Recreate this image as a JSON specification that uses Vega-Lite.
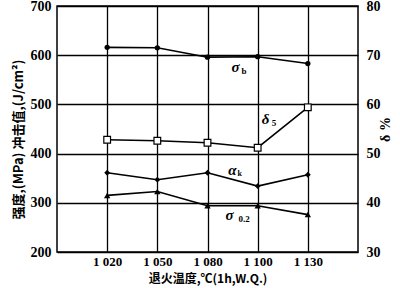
{
  "$schema": "https://vega.github.io/schema/vega-lite/v6.json",
  "width": 301,
  "height": 246,
  "autosize": "none",
  "padding": {"left": 57, "top": 6, "right": 42, "bottom": 36},
  "background": "white",
  "config": {
    "view": {"stroke": "black", "strokeWidth": 1.5},
    "axis": {
      "labelFont": "Liberation Serif",
      "labelFontWeight": "bold",
      "labelFontSize": 14,
      "labelColor": "black",
      "titleColor": "black",
      "ticks": false,
      "domain": false,
      "gridColor": "black",
      "gridWidth": 1.3,
      "gridOpacity": 1
    },
    "text": {"font": "Liberation Serif", "fontWeight": "bold", "color": "black", "baseline": "middle"}
  },
  "datasets": {
    "strength": [
      {"temp": 1020, "series": "σb", "v": 616},
      {"temp": 1050, "series": "σb", "v": 615},
      {"temp": 1080, "series": "σb", "v": 596},
      {"temp": 1100, "series": "σb", "v": 597},
      {"temp": 1130, "series": "σb", "v": 583},
      {"temp": 1020, "series": "αk", "v": 361},
      {"temp": 1050, "series": "αk", "v": 347},
      {"temp": 1080, "series": "αk", "v": 361},
      {"temp": 1100, "series": "αk", "v": 334},
      {"temp": 1130, "series": "αk", "v": 357},
      {"temp": 1020, "series": "σ0.2", "v": 315},
      {"temp": 1050, "series": "σ0.2", "v": 323},
      {"temp": 1080, "series": "σ0.2", "v": 294},
      {"temp": 1100, "series": "σ0.2", "v": 294},
      {"temp": 1130, "series": "σ0.2", "v": 276}
    ],
    "delta": [
      {"temp": 1020, "d": 52.8},
      {"temp": 1050, "d": 52.6},
      {"temp": 1080, "d": 52.2},
      {"temp": 1100, "d": 51.2},
      {"temp": 1130, "d": 59.4}
    ],
    "labels": [
      {"id": "sb", "temp": 1080, "v": 576, "main": "σ", "sub": "b"},
      {"id": "d5", "temp": 1100, "v": 470, "main": "δ", "sub": "5"},
      {"id": "ak", "temp": 1080, "v": 366, "main": "α", "sub": "k"},
      {"id": "s02", "temp": 1080, "v": 276, "main": "σ", "sub": "0.2"}
    ]
  },
  "encoding": {
    "x": {
      "field": "temp",
      "type": "ordinal",
      "sort": [1020, 1050, 1080, 1100, 1130],
      "scale": {"type": "point", "padding": 1},
      "axis": {
        "title": "退火温度,℃(1h,W.Q.)",
        "titleFont": "Noto Sans CJK SC",
        "titleFontWeight": "bold",
        "titleFontSize": 12,
        "titlePadding": 5,
        "labelAngle": 0,
        "labelFontSize": 13,
        "labelPadding": 3,
        "grid": true,
        "labelExpr": "'1 ' + substring(datum.label, 1)"
      }
    }
  },
  "layer": [
    {
      "encoding": {
        "y": {
          "field": "v",
          "type": "quantitative",
          "scale": {"domain": [200, 700], "nice": false, "zero": false},
          "axis": {
            "values": [200, 300, 400, 500, 600, 700],
            "title": "强度,(MPa)  冲击值,(J/cm²)",
            "titleFont": "Noto Sans CJK SC",
            "titleFontWeight": "bold",
            "titleFontSize": 13,
            "titlePadding": 5,
            "titleY": 133,
            "labelPadding": 6,
            "grid": true
          }
        }
      },
      "layer": [
        {
          "data": {"name": "strength"},
          "mark": {"type": "line", "color": "black", "strokeWidth": 1.6},
          "encoding": {"detail": {"field": "series"}}
        },
        {
          "data": {"name": "strength"},
          "mark": {"type": "point", "filled": true, "color": "black", "opacity": 1},
          "encoding": {
            "shape": {
              "field": "series",
              "scale": {"domain": ["σb", "αk", "σ0.2"], "range": ["circle", "diamond", "triangle-up"]},
              "legend": null
            },
            "size": {
              "field": "series",
              "scale": {"domain": ["σb", "αk", "σ0.2"], "range": [28, 40, 30]},
              "legend": null
            }
          }
        },
        {
          "data": {"name": "labels"},
          "transform": [{"filter": "datum.id === 'sb'"}],
          "layer": [
            {"mark": {"type": "text", "fontStyle": "italic", "fontSize": 15, "dx": 28}, "encoding": {"text": {"field": "main"}}},
            {"mark": {"type": "text", "fontSize": 9, "align": "left", "dx": 34, "dy": 4}, "encoding": {"text": {"field": "sub"}}}
          ]
        },
        {
          "data": {"name": "labels"},
          "transform": [{"filter": "datum.id === 'd5'"}],
          "layer": [
            {"mark": {"type": "text", "fontStyle": "italic", "fontSize": 15, "dx": 8}, "encoding": {"text": {"field": "main"}}},
            {"mark": {"type": "text", "fontSize": 9, "align": "left", "dx": 14, "dy": 4}, "encoding": {"text": {"field": "sub"}}}
          ]
        },
        {
          "data": {"name": "labels"},
          "transform": [{"filter": "datum.id === 'ak'"}],
          "layer": [
            {"mark": {"type": "text", "fontStyle": "italic", "fontSize": 15, "dx": 25}, "encoding": {"text": {"field": "main"}}},
            {"mark": {"type": "text", "fontSize": 8, "align": "left", "dx": 30, "dy": 4}, "encoding": {"text": {"field": "sub"}}}
          ]
        },
        {
          "data": {"name": "labels"},
          "transform": [{"filter": "datum.id === 's02'"}],
          "layer": [
            {"mark": {"type": "text", "fontStyle": "italic", "fontSize": 15, "dx": 22}, "encoding": {"text": {"field": "main"}}},
            {"mark": {"type": "text", "fontSize": 9, "align": "left", "dx": 31, "dy": 4}, "encoding": {"text": {"field": "sub"}}}
          ]
        }
      ]
    },
    {
      "data": {"name": "delta"},
      "encoding": {
        "y": {
          "field": "d",
          "type": "quantitative",
          "scale": {"domain": [30, 80], "nice": false, "zero": false},
          "axis": {
            "orient": "right",
            "values": [30, 40, 50, 60, 70, 80],
            "title": "δ %",
            "titleFont": "Liberation Serif",
            "titleFontWeight": "bold",
            "titleFontSize": 14,
            "titleAngle": -90,
            "titlePadding": 12,
            "labelPadding": 8,
            "grid": false
          }
        }
      },
      "layer": [
        {"mark": {"type": "line", "color": "black", "strokeWidth": 1.6}},
        {"mark": {"type": "square", "filled": true, "fill": "white", "stroke": "black", "strokeWidth": 1.2, "size": 45, "opacity": 1}}
      ]
    }
  ],
  "resolve": {"scale": {"y": "independent"}}
}
